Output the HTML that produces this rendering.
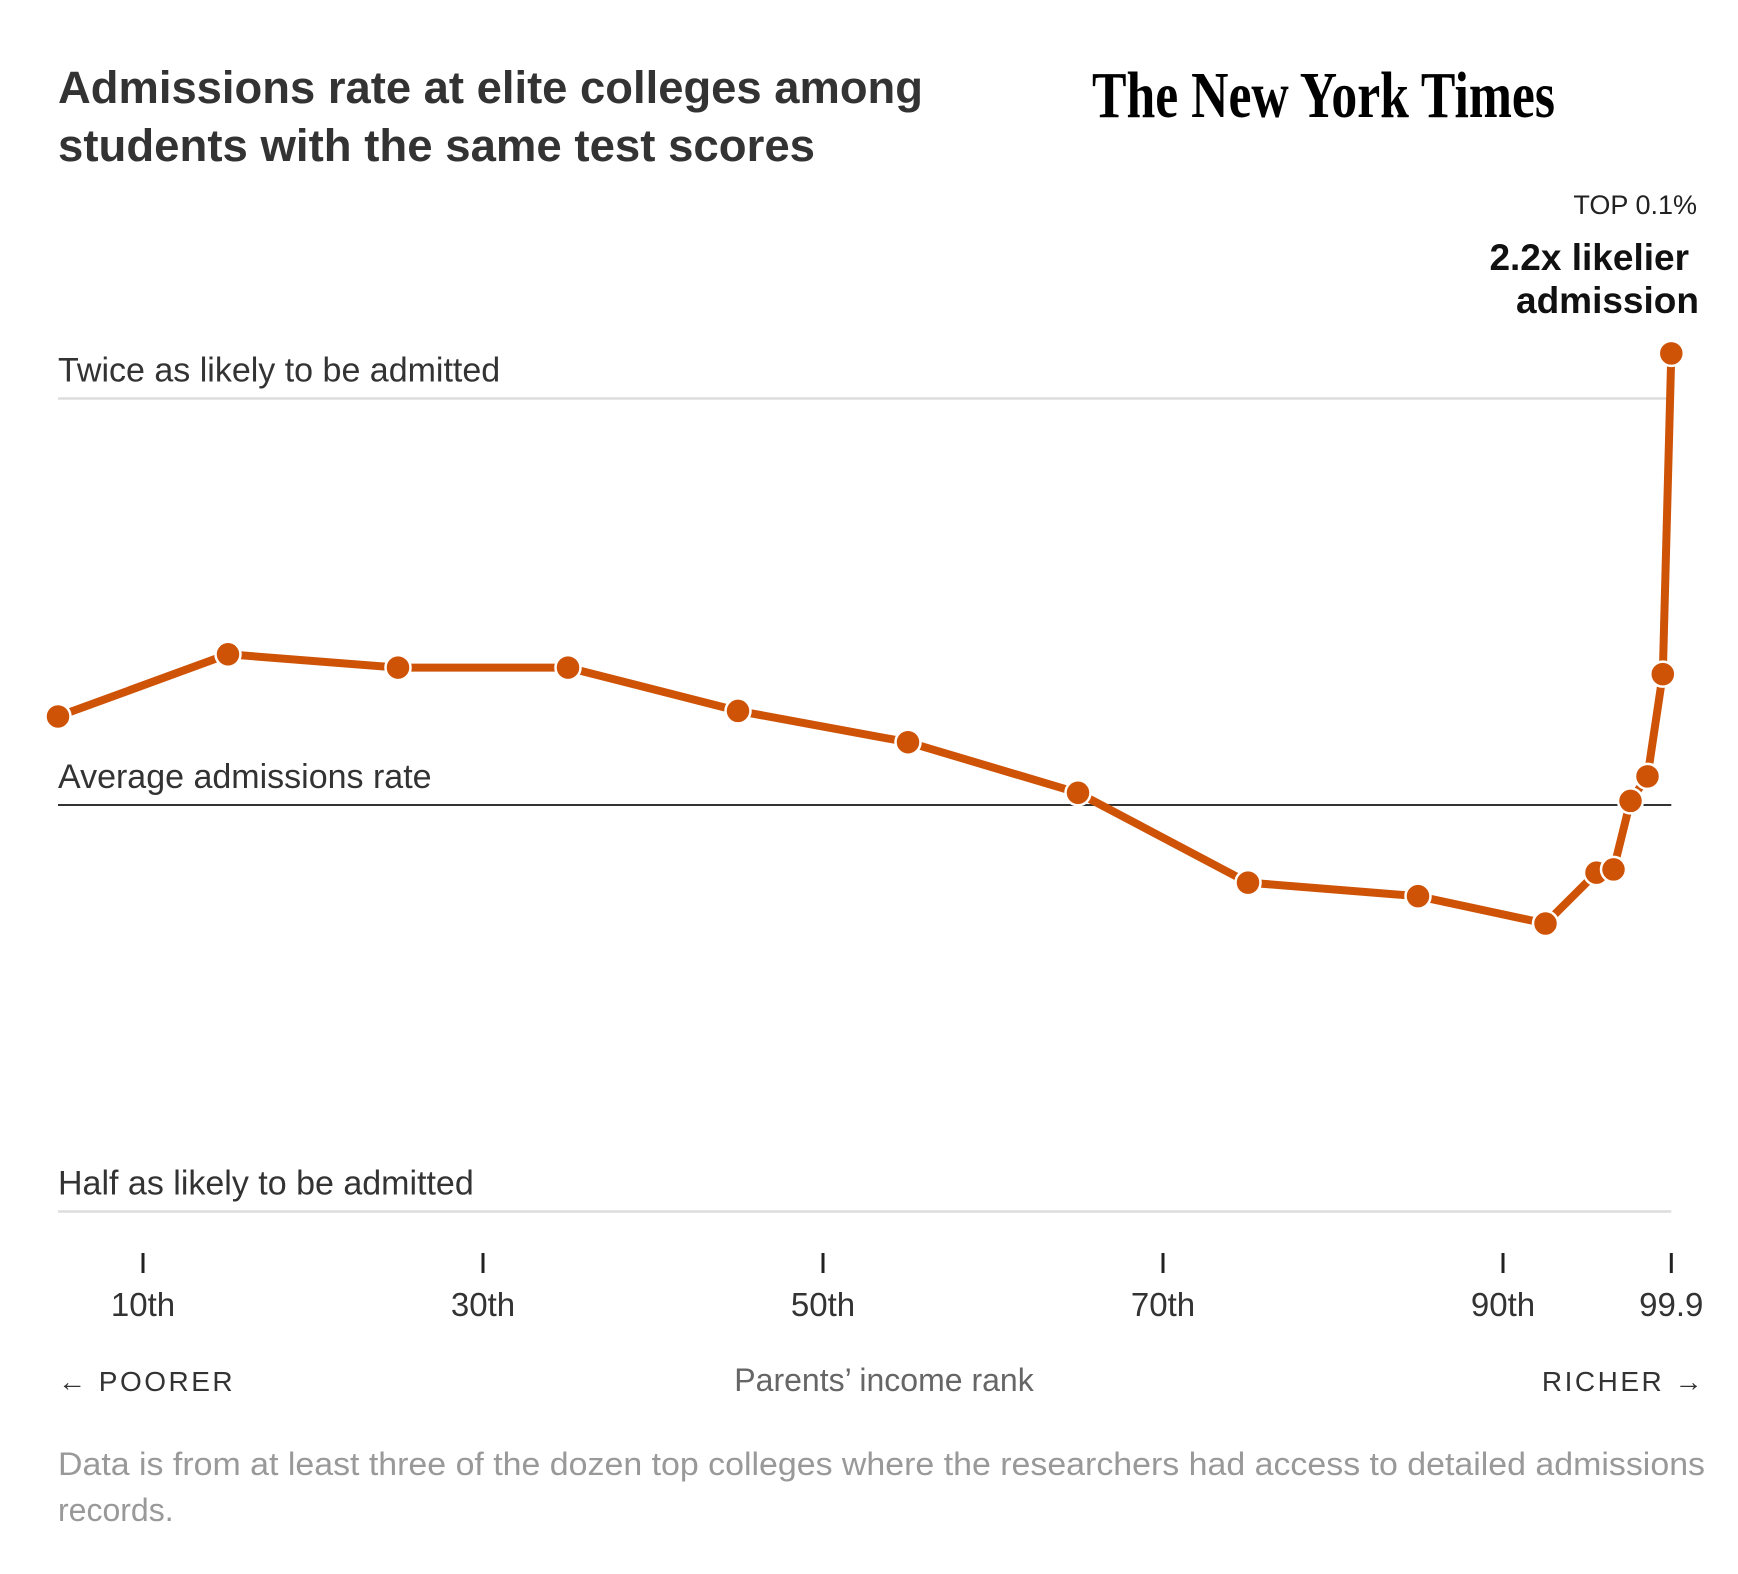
<!DOCTYPE html>
<html><head><meta charset="utf-8">
<style>
html,body{margin:0;padding:0;background:#fff;}
svg{display:block;font-family:"Liberation Sans",sans-serif;}
</style></head>
<body>
<svg id="chart" width="1738" height="1574" viewBox="0 0 1738 1574" xmlns="http://www.w3.org/2000/svg">
  <rect width="1738" height="1574" fill="#fff"/>
  <text x="58" y="103" font-size="45" font-weight="bold" fill="#333" textLength="865" lengthAdjust="spacingAndGlyphs">Admissions rate at elite colleges among</text>
  <text x="58" y="161" font-size="45" font-weight="bold" fill="#333" textLength="757" lengthAdjust="spacingAndGlyphs">students with the same test scores</text>
  <text x="1092" y="117" font-family="Liberation Serif, serif" font-size="66" font-weight="bold" fill="#000" textLength="463" lengthAdjust="spacingAndGlyphs">The New York Times</text>

  <text x="1697" y="214" font-size="27" fill="#222" text-anchor="end">TOP 0.1%</text>
  <text x="1689" y="270" font-size="37" font-weight="bold" fill="#111" text-anchor="end">2.2x likelier</text>
  <text x="1699" y="313" font-size="37" font-weight="bold" fill="#111" text-anchor="end">admission</text>

  <g id="grid"></g>
  <g id="xaxis"></g>
  <g id="series"></g>

  <text x="58" y="1391" font-size="28" fill="#333" letter-spacing="2.5">← POORER</text>
  <text x="884" y="1391" font-size="32" fill="#666" text-anchor="middle">Parents’ income rank</text>
  <text x="1705" y="1391" font-size="28" fill="#333" text-anchor="end" letter-spacing="2.5">RICHER →</text>

  <text x="58" y="1475" font-size="32" fill="#999" textLength="1647" lengthAdjust="spacingAndGlyphs">Data is from at least three of the dozen top colleges where the researchers had access to detailed admissions</text>
  <text x="58" y="1521" font-size="32" fill="#999">records.</text>
</svg>
<script>
const pct = [5, 15, 25, 35, 45, 55, 65, 75, 85, 92.5, 95.5, 96.5, 97.5, 98.5, 99.4, 99.9];
const ratio = [1.163, 1.293, 1.264, 1.264, 1.174, 1.113, 1.021, 0.876, 0.856, 0.817, 0.891, 0.896, 1.007, 1.050, 1.25, 2.16];
const tickValues = [10, 30, 50, 70, 90, 99.9];
const tickLabels = ["10th", "30th", "50th", "70th", "90th", "99.9"];
const refValues = [2, 1, 0.5];
const refLabels = ["Twice as likely to be admitted", "Average admissions rate", "Half as likely to be admitted"];

const NS = "http://www.w3.org/2000/svg";
function xScale(p){ return 143 + (p - 10) * 17.0; }
function yScale(r){ return 805 - Math.log2(r) * 406.5; }
function mk(tag, attrs, parent){
  const e = document.createElementNS(NS, tag);
  for (const k in attrs) e.setAttribute(k, attrs[k]);
  parent.appendChild(e);
  return e;
}
const grid = document.getElementById('grid');
const xaxis = document.getElementById('xaxis');
const series = document.getElementById('series');
const x0 = 58, x1 = xScale(99.9);

refValues.forEach((v, i) => {
  const y = yScale(v);
  const ln = mk('line', {x1: x0, x2: x1, y1: y, y2: y, stroke: v === 1 ? '#333' : '#ddd', 'stroke-width': v === 1 ? 2 : 2.5}, grid);
  
  
  const t = mk('text', {x: 58, y: y - 17, 'font-size': 34, fill: '#333'}, grid);
  t.textContent = refLabels[i];
  
  
});

tickValues.forEach((v, i) => {
  const x = xScale(v);
  const tk = mk('line', {x1: x, x2: x, y1: 1253, y2: 1273, stroke: '#222', 'stroke-width': 3}, xaxis);
  
  
  const t = mk('text', {x: x, y: 1316, 'font-size': 33, fill: '#333', 'text-anchor': 'middle'}, xaxis);
  t.textContent = tickLabels[i];
  
  
});

const d = pct.map((p, i) => (i ? 'L' : 'M') + xScale(p).toFixed(1) + ',' + yScale(ratio[i]).toFixed(1)).join(' ');
const path = mk('path', {d: d, fill: 'none', stroke: '#cf5306', 'stroke-width': 8, 'stroke-linejoin': 'round'}, series);


pct.forEach((p, i) => {
  const c = mk('circle', {cx: xScale(p), cy: yScale(ratio[i]), r: 12.5, fill: '#cf5306', stroke: '#fff', 'stroke-width': 2.5}, series);
  
  
});
</script>
</body></html>
